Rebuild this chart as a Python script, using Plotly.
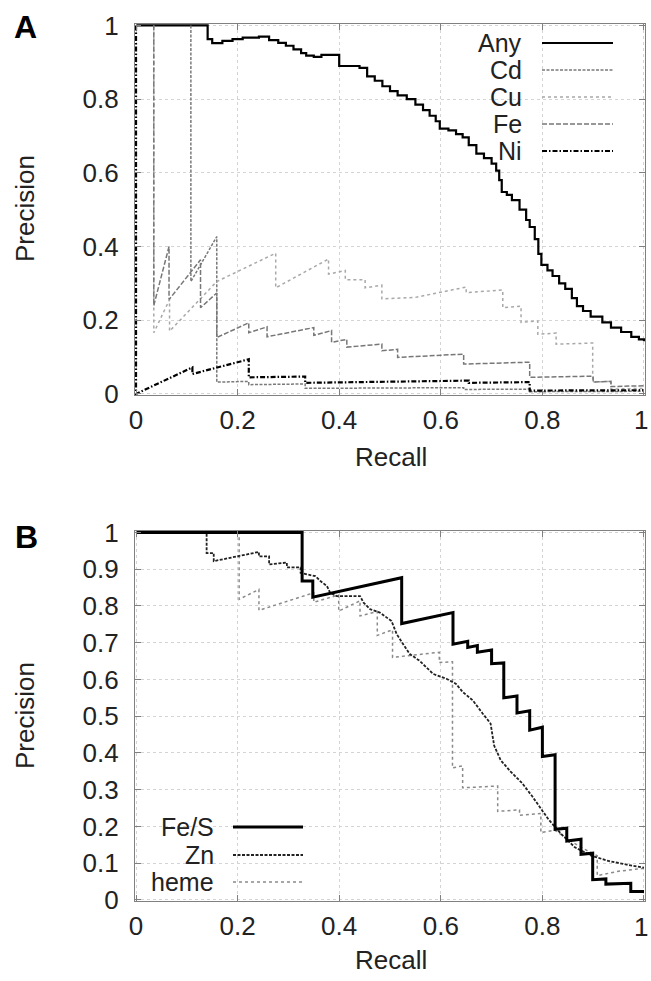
import plotly.graph_objects as go

# ---------------- Panel A data ----------------
any_recall = [0, 0.141, 0.15, 0.17, 0.19, 0.21, 0.242, 0.262, 0.28, 0.295, 0.31, 0.325, 0.335, 0.35, 0.365, 0.39,
              0.40, 0.42, 0.44, 0.455, 0.47, 0.485, 0.50, 0.515, 0.533, 0.55, 0.565, 0.578, 0.59, 0.598, 0.615,
              0.63, 0.643, 0.655, 0.67, 0.685, 0.70, 0.709, 0.715, 0.72, 0.73, 0.74, 0.755, 0.768, 0.775, 0.785,
              0.792, 0.798, 0.81, 0.82, 0.833, 0.845, 0.858, 0.868, 0.88, 0.895, 0.918, 0.935, 0.955, 0.975, 0.99, 1.0]
any_prec = [1, 0.963, 0.952, 0.958, 0.963, 0.967, 0.97, 0.96, 0.953, 0.945, 0.935, 0.925, 0.918, 0.915, 0.92, 0.92,
            0.89, 0.89, 0.885, 0.862, 0.85, 0.835, 0.822, 0.81, 0.80, 0.785, 0.77, 0.755, 0.74, 0.72, 0.715,
            0.705, 0.696, 0.675, 0.652, 0.64, 0.625, 0.606, 0.58, 0.548, 0.54, 0.526, 0.50, 0.472, 0.453, 0.42,
            0.38, 0.35, 0.335, 0.32, 0.30, 0.285, 0.26, 0.238, 0.225, 0.21, 0.194, 0.18, 0.168, 0.155, 0.148, 0.143]

cd_recall = [0.108, 0.108, 0.159, 0.159, 0.222, 0.222, 0.333, 0.333, 0.645, 0.645, 0.775, 0.775, 1.0]
cd_prec = [1.0, 0.305, 0.427, 0.032, 0.034, 0.025, 0.027, 0.015, 0.017, 0.012, 0.013, 0.006, 0.007]

cu_recall = [0.035, 0.035, 0.066, 0.066, 0.159, 0.275, 0.275, 0.379, 0.379, 0.412, 0.412, 0.451, 0.451,
             0.484, 0.484, 0.55, 0.65, 0.65, 0.722, 0.722, 0.758, 0.758, 0.791, 0.791, 0.827, 0.827,
             0.899, 0.899, 0.935, 0.935, 1.0]
cu_prec = [1.0, 0.166, 0.256, 0.17, 0.305, 0.382, 0.288, 0.366, 0.325, 0.335, 0.31, 0.31, 0.288,
           0.295, 0.258, 0.262, 0.29, 0.275, 0.282, 0.234, 0.238, 0.194, 0.198, 0.162, 0.165, 0.135,
           0.138, 0.032, 0.034, 0.013, 0.015]

fe_recall = [0.035, 0.035, 0.065, 0.065, 0.127, 0.127, 0.159, 0.159, 0.222, 0.222, 0.258, 0.258, 0.35, 0.35,
             0.385, 0.385, 0.415, 0.415, 0.484, 0.484, 0.515, 0.515, 0.645, 0.645, 0.775, 0.775, 0.90, 0.90,
             0.935, 0.935, 1.0]
fe_prec = [1.0, 0.24, 0.40, 0.256, 0.364, 0.234, 0.274, 0.153, 0.193, 0.166, 0.182, 0.155, 0.18, 0.159,
           0.172, 0.14, 0.148, 0.127, 0.135, 0.117, 0.121, 0.099, 0.108, 0.081, 0.086, 0.045, 0.048, 0.032,
           0.034, 0.02, 0.022]

ni_recall = [0, 0, 0.111, 0.111, 0.222, 0.222, 0.333, 0.333, 0.655, 0.655, 0.775, 0.775, 1.0]
ni_prec = [1.0, 0.0, 0.072, 0.054, 0.094, 0.045, 0.047, 0.03, 0.036, 0.03, 0.032, 0.009, 0.01]

# ---------------- Panel B data ----------------
fes_recall = [0, 0.327, 0.327, 0.348, 0.348, 0.523, 0.523, 0.624, 0.624, 0.653, 0.653, 0.672, 0.672, 0.70, 0.70,
              0.724, 0.724, 0.75, 0.75, 0.775, 0.775, 0.80, 0.80, 0.825, 0.825, 0.848, 0.848, 0.876, 0.876,
              0.899, 0.899, 0.925, 0.925, 0.974, 0.974, 1.0]
fes_prec = [1.0, 1.0, 0.868, 0.868, 0.824, 0.877, 0.752, 0.782, 0.696, 0.704, 0.687, 0.692, 0.674, 0.68, 0.643,
            0.645, 0.55, 0.555, 0.509, 0.515, 0.462, 0.47, 0.39, 0.395, 0.192, 0.195, 0.16, 0.165, 0.124,
            0.127, 0.055, 0.057, 0.043, 0.045, 0.023, 0.023]

zn_recall = [0, 0.139, 0.139, 0.153, 0.153, 0.242, 0.242, 0.262, 0.262, 0.297, 0.297, 0.324, 0.324, 0.353,
             0.363, 0.376, 0.382, 0.395, 0.441, 0.448, 0.461, 0.48, 0.503, 0.513, 0.526, 0.539, 0.558, 0.585,
             0.611, 0.63, 0.643, 0.663, 0.682, 0.698, 0.705, 0.718, 0.737, 0.76, 0.78, 0.793, 0.812, 0.838,
             0.864, 0.897, 0.93, 0.97, 1.0]
zn_prec = [1.0, 1.0, 0.944, 0.944, 0.922, 0.947, 0.935, 0.935, 0.913, 0.918, 0.905, 0.905, 0.89, 0.881,
           0.868, 0.854, 0.836, 0.827, 0.827, 0.809, 0.791, 0.782, 0.759, 0.724, 0.696, 0.669, 0.651, 0.615,
           0.602, 0.588, 0.566, 0.543, 0.508, 0.48, 0.42, 0.38, 0.35, 0.318, 0.282, 0.255, 0.219, 0.178,
           0.143, 0.12, 0.106, 0.095, 0.088]

heme_recall = [0, 0.203, 0.203, 0.242, 0.242, 0.35, 0.35, 0.399, 0.399, 0.441, 0.441, 0.475, 0.475, 0.505, 0.505,
               0.597, 0.597, 0.623, 0.623, 0.643, 0.643, 0.712, 0.712, 0.755, 0.755, 0.797, 0.797, 0.824, 0.85,
               0.88, 0.908, 0.908, 0.95, 1.0]
heme_prec = [1.0, 1.0, 0.818, 0.845, 0.788, 0.836, 0.81, 0.83, 0.786, 0.814, 0.773, 0.785, 0.72, 0.735, 0.66,
             0.674, 0.646, 0.648, 0.359, 0.365, 0.305, 0.31, 0.241, 0.245, 0.23, 0.235, 0.183, 0.19, 0.165,
             0.14, 0.12, 0.066, 0.078, 0.086]

x_ticks = [0, 0.2, 0.4, 0.6, 0.8, 1]
x_ticktext = ["0", "0.2", "0.4", "0.6", "0.8", ""]   # the last label ("1") is placed at the page edge below
x_last_label = "1"
ya_ticks = [0, 0.2, 0.4, 0.6, 0.8, 1]
yb_ticks = [0, 0.1, 0.2, 0.3, 0.4, 0.5, 0.6, 0.7, 0.8, 0.9, 1]

legend_a = ["Any", "Cd", "Cu", "Fe", "Ni"]
legend_b = ["Fe/S", "Zn", "heme"]

# ---------------- styling ----------------
W, H = 651, 981
ML, MR, MT, MB = 135, 6, 24, 80
PW, PH = W - ML - MR, H - MT - MB
FONT = "Liberation Sans, Arial, Helvetica, sans-serif"
FS = 26
FS_LEG = 25


def px2x(px):
    return (px - ML) / PW


def py2y(py):
    return (H - MB - py) / PH


styles_a = {
    "Any": dict(color="black", width=2.2, dash="solid"),
    "Cd": dict(color="#7a7a7a", width=1.5, dash="3px,1.5px"),
    "Cu": dict(color="#a8a8a8", width=1.5, dash="dot"),
    "Fe": dict(color="#777777", width=1.5, dash="5px,2px"),
    "Ni": dict(color="black", width=2.2, dash="5px,2px,1.5px,2px"),
}
styles_b = {
    "Fe/S": dict(color="black", width=3, dash="solid"),
    "Zn": dict(color="#222222", width=1.8, dash="3px,1.5px"),
    "heme": dict(color="#8a8a8a", width=1.5, dash="dot"),
}

fig = go.Figure()

series_a = [("Any", any_recall, any_prec, "hv"), ("Cd", cd_recall, cd_prec, "linear"),
            ("Cu", cu_recall, cu_prec, "linear"), ("Fe", fe_recall, fe_prec, "linear"),
            ("Ni", ni_recall, ni_prec, "linear")]
for name, xs, ys, shape in series_a:
    fig.add_trace(go.Scatter(x=xs, y=ys, mode="lines", name=name, line=dict(**styles_a[name], shape=shape),
                             xaxis="x", yaxis="y", showlegend=False))

series_b = [("heme", heme_recall, heme_prec), ("Zn", zn_recall, zn_prec), ("Fe/S", fes_recall, fes_prec)]
for name, xs, ys in series_b:
    fig.add_trace(go.Scatter(x=xs, y=ys, mode="lines", name=name, line=dict(**styles_b[name]),
                             xaxis="x2", yaxis="y2", showlegend=False))

axis_common = dict(
    showline=True, linecolor="#808080", linewidth=1.3, mirror="ticks",
    ticks="inside", ticklen=6, tickcolor="#808080", tickwidth=1,
    showgrid=True, gridcolor="#d4d4d4", griddash="dot", gridwidth=1,
    zeroline=False, tickfont=dict(family=FONT, size=FS, color="#222"),
)

fig.update_layout(
    width=W, height=H,
    margin=dict(l=ML, r=MR, t=MT, b=MB),
    paper_bgcolor="white", plot_bgcolor="white",
    font=dict(family=FONT, size=FS, color="#222"),
    xaxis=dict(domain=[0, 1], range=[-0.002, 1.002], tickvals=x_ticks, ticktext=x_ticktext, anchor="y",
               ticklabelstandoff=2, **axis_common),
    yaxis=dict(domain=[py2y(395), 1.0], range=[-0.003, 1.004], tickvals=ya_ticks, anchor="x",
               ticklabelstandoff=10, **axis_common),
    xaxis2=dict(domain=[0, 1], range=[-0.002, 1.002], tickvals=x_ticks, ticktext=x_ticktext, anchor="y2",
                ticklabelstandoff=2, **axis_common),
    yaxis2=dict(domain=[0, py2y(531)], range=[-0.003, 1.004], tickvals=yb_ticks, anchor="x2",
                ticklabelstandoff=10, **axis_common),
)

ann = []
shapes = []
# last x tick label of each panel, kept inside the page
for xr, yc in (("x", 420), ("x2", 927)):
    ann.append(dict(text=x_last_label, x=x_ticks[-1], xref=xr, y=py2y(yc), yref="paper", showarrow=False,
                    xanchor="right", yanchor="middle", xshift=6,
                    font=dict(family=FONT, size=FS, color="#222")))
# Axis titles and panel labels
ann.append(dict(text="Precision", x=px2x(25), y=py2y(209), xref="paper", yref="paper", textangle=-90,
                showarrow=False, font=dict(family=FONT, size=FS, color="#222"), xanchor="center", yanchor="middle"))
ann.append(dict(text="Precision", x=px2x(25), y=py2y(716), xref="paper", yref="paper", textangle=-90,
                showarrow=False, font=dict(family=FONT, size=FS, color="#222"), xanchor="center", yanchor="middle"))
ann.append(dict(text="Recall", x=px2x(391), y=py2y(457), xref="paper", yref="paper",
                showarrow=False, font=dict(family=FONT, size=FS, color="#222"), xanchor="center", yanchor="middle"))
ann.append(dict(text="Recall", x=px2x(391), y=py2y(960), xref="paper", yref="paper",
                showarrow=False, font=dict(family=FONT, size=FS, color="#222"), xanchor="center", yanchor="middle"))
ann.append(dict(text="<b>A</b>", x=px2x(25), y=py2y(27), xref="paper", yref="paper",
                showarrow=False, font=dict(family=FONT, size=32, color="black"), xanchor="center", yanchor="middle"))
ann.append(dict(text="<b>B</b>", x=px2x(26), y=py2y(537), xref="paper", yref="paper",
                showarrow=False, font=dict(family=FONT, size=32, color="black"), xanchor="center", yanchor="middle"))

# Legends (text on the left, line sample on the right, as in the original)
leg_a_y = [43, 70, 97, 124, 151]
for name, yy in zip(legend_a, leg_a_y):
    ann.append(dict(text=name, x=px2x(524), y=py2y(yy), xref="paper", yref="paper", showarrow=False,
                    font=dict(family=FONT, size=FS_LEG, color="#222"), xanchor="right", yanchor="middle"))
    st = styles_a[name]
    shapes.append(dict(type="line", xref="paper", yref="paper", x0=px2x(542), x1=px2x(613),
                       y0=py2y(yy), y1=py2y(yy), line=dict(color=st["color"], width=st["width"], dash=st["dash"])))

leg_b_y = [827, 855, 882]
for name, yy in zip(legend_b, leg_b_y):
    ann.append(dict(text=name, x=px2x(216), y=py2y(yy), xref="paper", yref="paper", showarrow=False,
                    font=dict(family=FONT, size=FS_LEG, color="#222"), xanchor="right", yanchor="middle"))
    st = styles_b[name]
    shapes.append(dict(type="line", xref="paper", yref="paper", x0=px2x(233), x1=px2x(303),
                       y0=py2y(yy), y1=py2y(yy), line=dict(color=st["color"], width=st["width"], dash=st["dash"])))

fig.update_layout(annotations=ann, shapes=shapes)
fig.write_html(
    "out.html", config={"displayModeBar": False},
    post_script=("document.body.style.margin='0px';"
                 "document.body.style.overflow='hidden';"
                 "document.documentElement.style.overflow='hidden';"),
)
